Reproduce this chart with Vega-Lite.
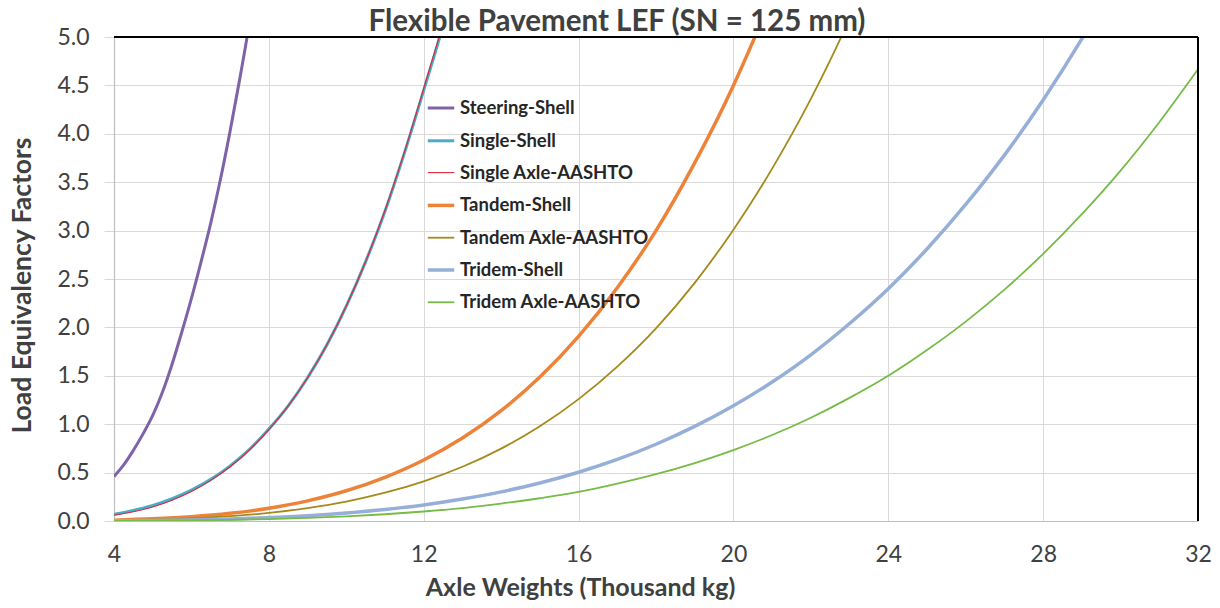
{
  "$schema": "https://vega.github.io/schema/vega-lite/v6.json",
  "width": 1084,
  "height": 484,
  "autosize": {"type": "none"},
  "padding": {"left": 114, "top": 37, "right": 22, "bottom": 87},
  "background": "white",
  "title": {"text": "Flexible Pavement LEF (SN = 125 mm)", "font": "Lato", "fontSize": 29.5, "fontWeight": "bold", "color": "#404040", "anchor": "middle", "dx": -39, "offset": 0, "dy": 11},
  "config": {
    "view": {"stroke": null},
    "font": "Lato",
    "axis": {"labelFont": "Lato", "titleFont": "Lato", "labelColor": "#404040", "titleColor": "#404040", "labelFontSize": 23, "titleFontSize": 25, "titleFontWeight": "bold", "gridColor": "#d9d9d9", "gridWidth": 1, "domainColor": "#bfbfbf", "domainWidth": 1.2, "tickColor": "#d9d9d9"},
    "legend": {"labelFont": "Lato", "labelFontSize": 18.5, "labelFontWeight": "bold", "labelColor": "#262626", "labelLimit": 400}
  },
  "data": {"values": [
    {"s": "Steering-Shell", "x": 4, "y": 0.46}, {"s": "Steering-Shell", "x": 4.25, "y": 0.58}, {"s": "Steering-Shell", "x": 4.5, "y": 0.73}, {"s": "Steering-Shell", "x": 4.75, "y": 0.9}, {"s": "Steering-Shell", "x": 5, "y": 1.09}, {"s": "Steering-Shell", "x": 5.25, "y": 1.33}, {"s": "Steering-Shell", "x": 5.5, "y": 1.62}, {"s": "Steering-Shell", "x": 5.75, "y": 1.95}, {"s": "Steering-Shell", "x": 6, "y": 2.3}, {"s": "Steering-Shell", "x": 6.25, "y": 2.68}, {"s": "Steering-Shell", "x": 6.5, "y": 3.08}, {"s": "Steering-Shell", "x": 6.75, "y": 3.53}, {"s": "Steering-Shell", "x": 7, "y": 4.03}, {"s": "Steering-Shell", "x": 7.25, "y": 4.57}, {"s": "Steering-Shell", "x": 7.5, "y": 5.15}, {"s": "Steering-Shell", "x": 7.75, "y": 5.8},
    {"s": "Single-Shell", "x": 4, "y": 0.07}, {"s": "Single-Shell", "x": 4.5, "y": 0.11}, {"s": "Single-Shell", "x": 5, "y": 0.16}, {"s": "Single-Shell", "x": 5.5, "y": 0.23}, {"s": "Single-Shell", "x": 6, "y": 0.32}, {"s": "Single-Shell", "x": 6.5, "y": 0.43}, {"s": "Single-Shell", "x": 7, "y": 0.57}, {"s": "Single-Shell", "x": 7.5, "y": 0.74}, {"s": "Single-Shell", "x": 8, "y": 0.95}, {"s": "Single-Shell", "x": 8.5, "y": 1.19}, {"s": "Single-Shell", "x": 9, "y": 1.48}, {"s": "Single-Shell", "x": 9.5, "y": 1.82}, {"s": "Single-Shell", "x": 10, "y": 2.22}, {"s": "Single-Shell", "x": 10.5, "y": 2.68}, {"s": "Single-Shell", "x": 11, "y": 3.2}, {"s": "Single-Shell", "x": 11.5, "y": 3.8}, {"s": "Single-Shell", "x": 12, "y": 4.45}, {"s": "Single-Shell", "x": 12.5, "y": 5.12}, {"s": "Single-Shell", "x": 13, "y": 5.9},
    {"s": "Single Axle-AASHTO", "x": 4, "y": 0.06}, {"s": "Single Axle-AASHTO", "x": 4.5, "y": 0.095}, {"s": "Single Axle-AASHTO", "x": 5, "y": 0.145}, {"s": "Single Axle-AASHTO", "x": 5.5, "y": 0.215}, {"s": "Single Axle-AASHTO", "x": 6, "y": 0.305}, {"s": "Single Axle-AASHTO", "x": 6.5, "y": 0.42}, {"s": "Single Axle-AASHTO", "x": 7, "y": 0.56}, {"s": "Single Axle-AASHTO", "x": 7.5, "y": 0.735}, {"s": "Single Axle-AASHTO", "x": 8, "y": 0.945}, {"s": "Single Axle-AASHTO", "x": 8.5, "y": 1.19}, {"s": "Single Axle-AASHTO", "x": 9, "y": 1.48}, {"s": "Single Axle-AASHTO", "x": 9.5, "y": 1.82}, {"s": "Single Axle-AASHTO", "x": 10, "y": 2.22}, {"s": "Single Axle-AASHTO", "x": 10.5, "y": 2.68}, {"s": "Single Axle-AASHTO", "x": 11, "y": 3.21}, {"s": "Single Axle-AASHTO", "x": 11.5, "y": 3.81}, {"s": "Single Axle-AASHTO", "x": 12, "y": 4.47}, {"s": "Single Axle-AASHTO", "x": 12.5, "y": 5.15}, {"s": "Single Axle-AASHTO", "x": 13, "y": 5.95},
    {"s": "Tandem-Shell", "x": 4, "y": 0.009}, {"s": "Tandem-Shell", "x": 5, "y": 0.022}, {"s": "Tandem-Shell", "x": 6, "y": 0.044}, {"s": "Tandem-Shell", "x": 7, "y": 0.079}, {"s": "Tandem-Shell", "x": 8, "y": 0.132}, {"s": "Tandem-Shell", "x": 9, "y": 0.208}, {"s": "Tandem-Shell", "x": 10, "y": 0.312}, {"s": "Tandem-Shell", "x": 11, "y": 0.451}, {"s": "Tandem-Shell", "x": 12, "y": 0.63}, {"s": "Tandem-Shell", "x": 13, "y": 0.857}, {"s": "Tandem-Shell", "x": 14, "y": 1.14}, {"s": "Tandem-Shell", "x": 15, "y": 1.487}, {"s": "Tandem-Shell", "x": 16, "y": 1.907}, {"s": "Tandem-Shell", "x": 17, "y": 2.41}, {"s": "Tandem-Shell", "x": 18, "y": 3.0}, {"s": "Tandem-Shell", "x": 19, "y": 3.7}, {"s": "Tandem-Shell", "x": 20, "y": 4.5}, {"s": "Tandem-Shell", "x": 20.5, "y": 4.95}, {"s": "Tandem-Shell", "x": 21, "y": 5.43}, {"s": "Tandem-Shell", "x": 21.5, "y": 5.95},
    {"s": "Tandem Axle-AASHTO", "x": 4, "y": 0.006}, {"s": "Tandem Axle-AASHTO", "x": 5, "y": 0.0135}, {"s": "Tandem Axle-AASHTO", "x": 6, "y": 0.0275}, {"s": "Tandem Axle-AASHTO", "x": 7, "y": 0.05}, {"s": "Tandem Axle-AASHTO", "x": 8, "y": 0.084}, {"s": "Tandem Axle-AASHTO", "x": 9, "y": 0.134}, {"s": "Tandem Axle-AASHTO", "x": 10, "y": 0.201}, {"s": "Tandem Axle-AASHTO", "x": 11, "y": 0.292}, {"s": "Tandem Axle-AASHTO", "x": 12, "y": 0.41}, {"s": "Tandem Axle-AASHTO", "x": 13, "y": 0.56}, {"s": "Tandem Axle-AASHTO", "x": 14, "y": 0.748}, {"s": "Tandem Axle-AASHTO", "x": 15, "y": 0.979}, {"s": "Tandem Axle-AASHTO", "x": 16, "y": 1.259}, {"s": "Tandem Axle-AASHTO", "x": 17, "y": 1.595}, {"s": "Tandem Axle-AASHTO", "x": 18, "y": 1.99}, {"s": "Tandem Axle-AASHTO", "x": 19, "y": 2.46}, {"s": "Tandem Axle-AASHTO", "x": 20, "y": 3.01}, {"s": "Tandem Axle-AASHTO", "x": 21, "y": 3.64}, {"s": "Tandem Axle-AASHTO", "x": 22, "y": 4.36}, {"s": "Tandem Axle-AASHTO", "x": 22.5, "y": 4.76}, {"s": "Tandem Axle-AASHTO", "x": 23, "y": 5.19}, {"s": "Tandem Axle-AASHTO", "x": 23.5, "y": 5.65},
    {"s": "Tridem-Shell", "x": 4, "y": 0.0024}, {"s": "Tridem-Shell", "x": 5, "y": 0.0057}, {"s": "Tridem-Shell", "x": 6, "y": 0.0115}, {"s": "Tridem-Shell", "x": 7, "y": 0.021}, {"s": "Tridem-Shell", "x": 8, "y": 0.035}, {"s": "Tridem-Shell", "x": 9, "y": 0.055}, {"s": "Tridem-Shell", "x": 10, "y": 0.083}, {"s": "Tridem-Shell", "x": 11, "y": 0.119}, {"s": "Tridem-Shell", "x": 12, "y": 0.166}, {"s": "Tridem-Shell", "x": 13, "y": 0.227}, {"s": "Tridem-Shell", "x": 14, "y": 0.301}, {"s": "Tridem-Shell", "x": 15, "y": 0.393}, {"s": "Tridem-Shell", "x": 16, "y": 0.504}, {"s": "Tridem-Shell", "x": 17, "y": 0.636}, {"s": "Tridem-Shell", "x": 18, "y": 0.793}, {"s": "Tridem-Shell", "x": 19, "y": 0.977}, {"s": "Tridem-Shell", "x": 20, "y": 1.19}, {"s": "Tridem-Shell", "x": 21, "y": 1.436}, {"s": "Tridem-Shell", "x": 22, "y": 1.717}, {"s": "Tridem-Shell", "x": 23, "y": 2.04}, {"s": "Tridem-Shell", "x": 24, "y": 2.4}, {"s": "Tridem-Shell", "x": 25, "y": 2.81}, {"s": "Tridem-Shell", "x": 26, "y": 3.27}, {"s": "Tridem-Shell", "x": 27, "y": 3.78}, {"s": "Tridem-Shell", "x": 28, "y": 4.35}, {"s": "Tridem-Shell", "x": 29, "y": 4.98}, {"s": "Tridem-Shell", "x": 30, "y": 5.67},
    {"s": "Tridem Axle-AASHTO", "x": 4, "y": 0.0013}, {"s": "Tridem Axle-AASHTO", "x": 5, "y": 0.0031}, {"s": "Tridem Axle-AASHTO", "x": 6, "y": 0.0064}, {"s": "Tridem Axle-AASHTO", "x": 7, "y": 0.0117}, {"s": "Tridem Axle-AASHTO", "x": 8, "y": 0.0198}, {"s": "Tridem Axle-AASHTO", "x": 9, "y": 0.0316}, {"s": "Tridem Axle-AASHTO", "x": 10, "y": 0.048}, {"s": "Tridem Axle-AASHTO", "x": 11, "y": 0.0696}, {"s": "Tridem Axle-AASHTO", "x": 12, "y": 0.098}, {"s": "Tridem Axle-AASHTO", "x": 13, "y": 0.134}, {"s": "Tridem Axle-AASHTO", "x": 14, "y": 0.18}, {"s": "Tridem Axle-AASHTO", "x": 15, "y": 0.235}, {"s": "Tridem Axle-AASHTO", "x": 16, "y": 0.3}, {"s": "Tridem Axle-AASHTO", "x": 17, "y": 0.386}, {"s": "Tridem Axle-AASHTO", "x": 18, "y": 0.484}, {"s": "Tridem Axle-AASHTO", "x": 19, "y": 0.599}, {"s": "Tridem Axle-AASHTO", "x": 20, "y": 0.733}, {"s": "Tridem Axle-AASHTO", "x": 21, "y": 0.888}, {"s": "Tridem Axle-AASHTO", "x": 22, "y": 1.067}, {"s": "Tridem Axle-AASHTO", "x": 23, "y": 1.272}, {"s": "Tridem Axle-AASHTO", "x": 24, "y": 1.5}, {"s": "Tridem Axle-AASHTO", "x": 25, "y": 1.766}, {"s": "Tridem Axle-AASHTO", "x": 26, "y": 2.06}, {"s": "Tridem Axle-AASHTO", "x": 27, "y": 2.39}, {"s": "Tridem Axle-AASHTO", "x": 28, "y": 2.76}, {"s": "Tridem Axle-AASHTO", "x": 29, "y": 3.17}, {"s": "Tridem Axle-AASHTO", "x": 30, "y": 3.62}, {"s": "Tridem Axle-AASHTO", "x": 31, "y": 4.12}, {"s": "Tridem Axle-AASHTO", "x": 32, "y": 4.666}
  ]},
  "layer": [
    {
      "mark": {"type": "line", "clip": true, "interpolate": "monotone"},
      "encoding": {
        "x": {"field": "x", "type": "quantitative", "scale": {"domain": [4, 32], "nice": false, "zero": false},
          "axis": {"values": [4, 8, 12, 16, 20, 24, 28, 32], "title": "Axle Weights (Thousand kg)", "ticks": false, "labelPadding": 22, "labelFlush": false, "titleX": 466, "titleY": 54, "titleAnchor": null, "titleAlign": "center", "titleBaseline": "top"}},
        "y": {"field": "y", "type": "quantitative", "scale": {"domain": [0, 5], "nice": false},
          "axis": {"values": [0, 0.5, 1, 1.5, 2, 2.5, 3, 3.5, 4, 4.5, 5], "format": ".1f", "title": "Load Equivalency Factors", "titleFontSize": 26.5, "tickSize": 10, "labelPadding": 15, "titleX": -92, "titleY": 248, "titleAngle": -90, "titleAlign": "center", "titleBaseline": "middle", "titleAnchor": null}},
        "color": {"field": "s", "type": "nominal", "title": null,
          "scale": {"domain": ["Steering-Shell", "Single-Shell", "Single Axle-AASHTO", "Tandem-Shell", "Tandem Axle-AASHTO", "Tridem-Shell", "Tridem Axle-AASHTO"],
                    "range": ["#7E63A8", "#4AACC5", "#E0243A", "#ED8339", "#A58A1B", "#96AFD8", "#76BB45"]},
          "legend": {"orient": "none", "legendX": 312, "legendY": 56, "symbolType": "stroke", "symbolSize": 700, "rowPadding": 7.8, "labelOffset": 4, "padding": 0}},
        "strokeWidth": {"field": "s", "type": "nominal", "title": null,
          "scale": {"type": "ordinal", "domain": ["Steering-Shell", "Single-Shell", "Single Axle-AASHTO", "Tandem-Shell", "Tandem Axle-AASHTO", "Tridem-Shell", "Tridem Axle-AASHTO"],
                    "range": [3, 3, 1.1, 3.5, 1.8, 3.5, 1.8]},
          "legend": {"orient": "none", "legendX": 312, "legendY": 56, "symbolType": "stroke", "symbolSize": 700, "rowPadding": 7.8, "labelOffset": 4, "padding": 0}}
      }
    },
    {"mark": {"type": "rule", "color": "#000000", "strokeWidth": 1.5}, "encoding": {"y": {"datum": 5}}},
    {"mark": {"type": "rule", "color": "#000000", "strokeWidth": 1.5}, "encoding": {"x": {"datum": 32}}}
  ]
}
